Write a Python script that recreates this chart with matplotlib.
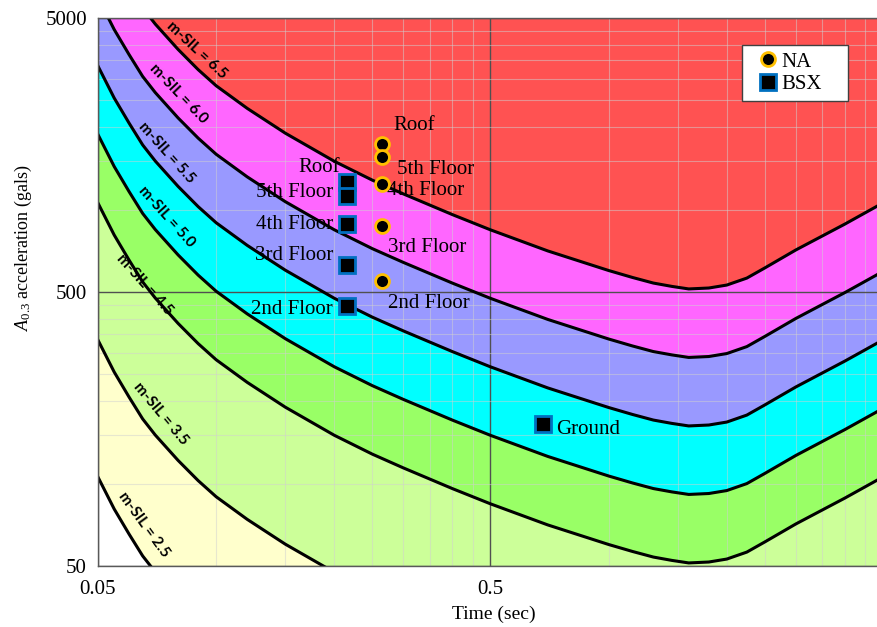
import numpy as np
import matplotlib.pyplot as plt
from matplotlib.lines import Line2D
from matplotlib.ticker import FixedLocator, NullFormatter

plt.rcParams['font.family'] = 'Liberation Serif'
plt.rcParams['mathtext.fontset'] = 'custom'
plt.rcParams['mathtext.rm'] = 'Liberation Serif'
plt.rcParams['mathtext.it'] = 'Liberation Serif:italic'

# boundary of m-SIL = 6.5 (period in sec, acceleration in gals)
period = [0.05, 0.055, 0.06, 0.065, 0.07, 0.08, 0.09, 0.1, 0.12, 0.15, 0.2, 0.25, 0.3, 0.4,
          0.5, 0.7, 1.0, 1.15, 1.3, 1.45, 1.6, 1.8, 2.0, 2.25, 2.5, 3.0, 4.0, 5.0]
accel_65 = [10560, 8070, 6540, 5440, 4750, 3840, 3240, 2830, 2340, 1900, 1500, 1280, 1140, 958,
            843, 706, 599, 565, 539, 524, 513, 517, 530, 562, 612, 712, 885, 1057]

# each 0.5 step of m-SIL is a quarter decade in acceleration
levels = [6.5, 6.0, 5.5, 5.0, 4.5, 3.5, 2.5]
band_colors = ['#ff5252', '#ff66ff', '#9999ff', '#00ffff', '#99ff66', '#ccff99', '#ffffcc', 'white']

floor_labels = ['Roof', '5th Floor', '4th Floor', '3rd Floor', '2nd Floor']
na_period = 0.265
na_accel = [1730, 1555, 1240, 870, 548]
bsx_period = 0.216
bsx_accel = [1260, 1120, 885, 627, 444]
ground_period = 0.68
ground_accel = 165

fig = plt.figure(figsize=(8.77, 6.27), dpi=100)
ax = fig.add_axes([0.1117, 0.0973, 0.8951, 0.874])
ax.set_xscale('log')
ax.set_yscale('log')
ax.set_xlim(0.05, 5)
ax.set_ylim(50, 5000)

curves = [np.array(accel_65) * 10 ** ((lv - 6.5) / 2) for lv in levels]
bounds = [np.full(len(period), 1e5)] + curves + [np.full(len(period), 1.0)]
for i, col in enumerate(band_colors):
    ax.fill_between(period, bounds[i + 1], bounds[i], color=col, lw=0, zorder=1)
for c in curves:
    ax.plot(period, c, color='black', lw=2.2, zorder=3, solid_joinstyle='round')

# m-SIL labels sitting on the upper side of each boundary
sil_pos = [(0.0892, 3810, -43), (0.0802, 2655, -46), (0.0748, 1617, -48), (0.0748, 944, -48),
           (0.0657, 532, -48), (0.0722, 180, -50), (0.0654, 71, -54)]
for lv, (t, a, rot) in zip(levels, sil_pos):
    ax.text(t, a, 'm-SIL = %.1f' % lv, rotation=rot, rotation_mode='anchor',
            ha='center', va='center', family='Lato', weight='bold', size=11, zorder=4)

# grid
ax.xaxis.set_major_locator(FixedLocator([0.05, 0.5, 5]))
ax.yaxis.set_major_locator(FixedLocator([50, 500, 5000]))
ax.set_xticklabels(['0.05', '0.5', ''])
ax.set_yticklabels(['50', '500', '5000'])
x_minor = [k * 0.05 for k in range(2, 10)] + [k * 0.5 for k in range(2, 10)]
y_minor = [k * 50 for k in range(2, 10)] + [k * 500 for k in range(2, 10)]
ax.xaxis.set_minor_locator(FixedLocator(x_minor))
ax.yaxis.set_minor_locator(FixedLocator(y_minor))
ax.xaxis.set_minor_formatter(NullFormatter())
ax.yaxis.set_minor_formatter(NullFormatter())
ax.set_axisbelow(False)
ax.grid(which='minor', color='#d0d0d0', alpha=0.5, lw=0.8)
ax.grid(which='major', color='#505050', lw=1.0)
ax.tick_params(which='both', length=0, labelsize=15)
ax.tick_params(axis='y', pad=8)
ax.tick_params(axis='x', pad=10)
for s in ax.spines.values():
    s.set_color('#595959')
    s.set_linewidth(1.0)
    s.set_zorder(5)

# measurements
na_style = dict(marker='o', ls='none', mfc='black', mec='#ffc000', mew=2, ms=10)
bsx_style = dict(marker='s', ls='none', mfc='black', mec='#0070c0', mew=2, ms=11)
ax.plot([na_period] * len(na_accel), na_accel, zorder=6, **na_style)
ax.plot([bsx_period] * len(bsx_accel), bsx_accel, zorder=6, **bsx_style)
ax.plot([ground_period], [ground_accel], zorder=6, **bsx_style)

na_off = [(11, 19), (15, -13), (5, -7), (6, -21), (6, -22)]
bsx_off = [(-7, 15), (-14, 4), (-14, 0), (-14, 10), (-15, -3)]
for lab, a, off in zip(floor_labels, na_accel, na_off):
    ax.annotate(lab, (na_period, a), xytext=off, textcoords='offset pixels',
                ha='left', va='center', fontsize=15, zorder=5)
for lab, a, off in zip(floor_labels, bsx_accel, bsx_off):
    ax.annotate(lab, (bsx_period, a), xytext=off, textcoords='offset pixels',
                ha='right', va='center', fontsize=15, zorder=5)
ax.annotate('Ground', (ground_period, ground_accel), xytext=(13, -6), textcoords='offset pixels',
            ha='left', va='center', fontsize=15, zorder=5)

handles = [Line2D([], [], label='NA', **na_style), Line2D([], [], label='BSX', **bsx_style)]
leg = ax.legend(handles=handles, loc='upper left', bbox_to_anchor=(0.8204, 0.851, 0.135, 0.1),
                mode='expand', borderaxespad=0, fontsize=15, fancybox=False, framealpha=1,
                edgecolor='#404040', handletextpad=-0.25, handlelength=1.8,
                borderpad=0.35, labelspacing=0.12)
leg.get_frame().set_linewidth(1.0)
leg.set_zorder(7)

ax.set_xlabel('Time (sec)', fontsize=14)
ax.set_ylabel('$A_{0.3}$ acceleration (gals)', fontsize=13)
ax.xaxis.set_label_coords(0.504, -0.073)
ax.yaxis.set_label_coords(-0.082, 0.58)

fig.savefig('out.png', dpi=100)
